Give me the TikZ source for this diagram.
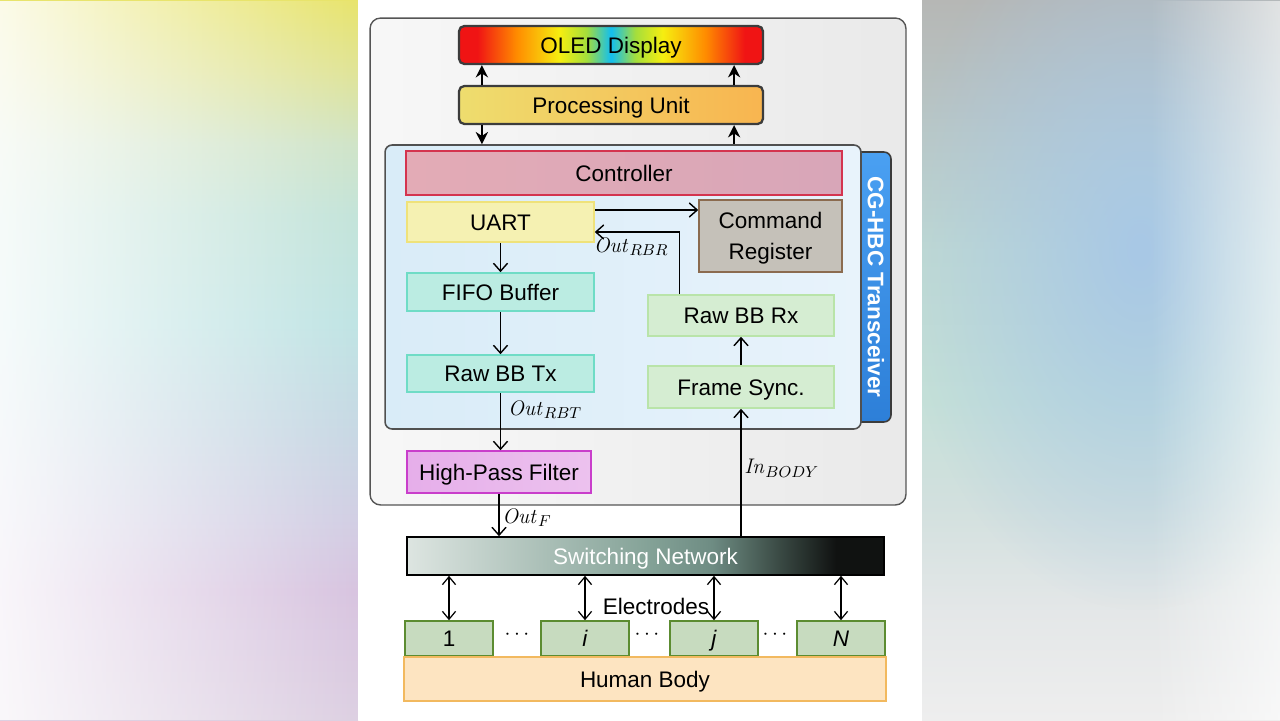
\documentclass[tikz,border=0pt]{standalone}
\usepackage[no-math]{fontspec}
\setmainfont{Liberation Sans}
\usepackage{tikz}
\usetikzlibrary{arrows.meta,positioning,calc,fadings}
\usepackage{xcolor}
\definecolor{hubgray}{HTML}{3C3C3C}
\definecolor{oledred}{HTML}{F01414}
\definecolor{oledorange}{HTML}{FF8C00}
\definecolor{oledyellow}{HTML}{F6EE10}
\definecolor{oledgreen}{HTML}{A4DE3C}
\definecolor{oledsky}{HTML}{12BEF0}
\definecolor{puA}{HTML}{EEDD6E}
\definecolor{puB}{HTML}{F8B550}
\definecolor{swlight}{HTML}{DDE5E1}
\definecolor{swmid}{HTML}{85A398}
\definecolor{swteal}{HTML}{6E8C83}
\definecolor{swdark}{HTML}{3A4A44}
\definecolor{swblack}{HTML}{101211}
\definecolor{lbA}{HTML}{E8E46C}
\definecolor{lbB}{HTML}{E0E498}
\definecolor{lbC}{HTML}{D0E4C8}
\definecolor{lbD}{HTML}{C4E4DA}
\definecolor{lbE}{HTML}{C0E4E4}
\definecolor{lbF}{HTML}{C8D8E4}
\definecolor{lbG}{HTML}{D2CFE4}
\definecolor{lbH}{HTML}{D8C4E0}
\definecolor{lbI}{HTML}{DDD0E2}
\definecolor{rbA}{HTML}{B6B7B5}
\definecolor{rbB}{HTML}{B8C4C4}
\definecolor{rbC}{HTML}{BFD9D3}
\definecolor{rbD}{HTML}{C4E0D8}
\definecolor{rbE}{HTML}{D2E0DE}
\definecolor{rbF}{HTML}{E4E7E8}
\definecolor{rbG}{HTML}{EEEEEE}
\definecolor{rightblue}{HTML}{A8C8E6}
\definecolor{pnlgray}{HTML}{555555}
\definecolor{trxgray}{HTML}{505050}
\definecolor{trxA}{HTML}{D9ECF8}
\definecolor{trxB}{HTML}{E8F3FB}
\definecolor{ctrlfillA}{HTML}{E3ABB6}
\definecolor{ctrlfillB}{HTML}{D8A6B8}
\definecolor{ctrlline}{HTML}{D4344F}
\definecolor{uartfill}{HTML}{F5F1B2}
\definecolor{uartline}{HTML}{EFE27A}
\definecolor{cmdfill}{HTML}{C5C1B9}
\definecolor{cmdline}{HTML}{8B6B4F}
\definecolor{txfill}{HTML}{BBECE2}
\definecolor{txline}{HTML}{6FDCC6}
\definecolor{rxfill}{HTML}{D5EDD2}
\definecolor{rxline}{HTML}{B9E4A9}
\definecolor{hpffillA}{HTML}{E6AEEA}
\definecolor{hpffillB}{HTML}{ECC2EE}
\definecolor{hpfline}{HTML}{C93ECB}
\definecolor{elfill}{HTML}{C7DBBF}
\definecolor{elline}{HTML}{5C8C31}
\definecolor{bodyfill}{HTML}{FDE4C1}
\definecolor{bodyline}{HTML}{F2B95F}
\definecolor{tabtop}{HTML}{4AA0F2}
\definecolor{tabbot}{HTML}{2D7FD8}

\pgfdeclarehorizontalshading{oledrainbow}{100bp}{color(0bp)=(oledred); color(25bp)=(oledred);
  color(28bp)=(oledred); color(34.5bp)=(oledorange); color(41.5bp)=(oledyellow);
  color(46bp)=(oledgreen); color(50bp)=(oledsky); color(54bp)=(oledgreen);
  color(58.5bp)=(oledyellow); color(65.5bp)=(oledorange); color(72bp)=(oledred);
  color(75bp)=(oledred); color(100bp)=(oledred)}
\pgfdeclarehorizontalshading{swnetshade}{100bp}{color(0bp)=(swlight); color(25bp)=(swlight);
  color(50bp)=(swmid); color(57bp)=(swteal); color(64bp)=(swdark); color(70bp)=(swblack);
  color(75bp)=(swblack); color(100bp)=(swblack)}
\pgfdeclareverticalshading{leftbg}{100bp}{color(0bp)=(lbI); color(25bp)=(lbI);
  color(34bp)=(lbH); color(39bp)=(lbG); color(45bp)=(lbF); color(52.5bp)=(lbE);
  color(60bp)=(lbD); color(65bp)=(lbC); color(70bp)=(lbB); color(75bp)=(lbA); color(100bp)=(lbA)}
\pgfdeclareverticalshading{rightbg}{100bp}{color(0bp)=(rbG); color(25bp)=(rbG);
  color(32.5bp)=(rbF); color(40bp)=(rbE); color(47.5bp)=(rbD); color(57.5bp)=(rbC);
  color(67.5bp)=(rbB); color(75bp)=(rbA); color(100bp)=(rbA)}
\tikzfading[name=opaqueleft, left color=transparent!0, right color=transparent!100]
\tikzfading[name=opaqueright, left color=transparent!100, right color=transparent!0]
\tikzfading[name=softblob, inner color=transparent!0, outer color=transparent!100]

\begin{document}
\begin{tikzpicture}[x=0.02cm,y=-0.02cm,
    every node/.style={font=\fontsize{12.8}{15}\selectfont},
    base/.style={draw,inner sep=0pt,align=center,line width=0.9pt},
    blk/.style={base,text height=9.2pt,text depth=0pt},
    hub/.style={blk,draw=hubgray,line width=1.3pt,rounded corners=3pt,
      minimum width=6.08cm,minimum height=0.76cm},
    txblk/.style={blk,fill=txfill,draw=txline,minimum width=3.74cm},
    rxblk/.style={blk,fill=rxfill,draw=rxline,minimum width=3.72cm},
    elblk/.style={blk,fill=elfill,draw=elline,minimum width=1.76cm,minimum height=0.7cm},
    lbl/.style={inner sep=1.5pt},
    arr/.style={-{Stealth[length=7pt,width=7pt]},line width=1.1pt},
    sig/.style={-{Straight Barb[length=4.5pt,width=8pt]},line width=0.8pt},
    dsig/.style={{Straight Barb[length=4.5pt,width=7.5pt]}-{Straight Barb[length=4.5pt,width=7.5pt]},line width=0.7pt}]
  \useasboundingbox (0,0) rectangle (1280,720);

  % blurred side panels
  \shade[shading=leftbg] (0,0) rectangle (358,720);
  \fill[white,path fading=opaqueleft,opacity=.85] (0,0) rectangle (358,720);
  \shade[shading=rightbg] (922,0) rectangle (1280,720);
  \fill[rightblue,path fading=softblob] (1140,250) ellipse [x radius=240,y radius=360];
  \fill[white,path fading=opaqueright,opacity=.6] (1150,0) rectangle (1280,720);
  \fill[white] (358,0) rectangle (922,720);

  % device board
  \node[base,draw=pnlgray,line width=0.8pt,rounded corners=6pt,left color=gray!6,right color=gray!17,
    minimum width=10.72cm,minimum height=9.74cm] (board) at (638,261.5) {};
  \node[hub,shading=oledrainbow] (oled) at (611,45) {OLED Display};
  \node[hub,left color=puA,right color=puB] (pu) at (611,105) {Processing Unit};

  % transceiver
  \node[base,draw=hubgray,rounded corners=4pt,top color=tabtop,bottom color=tabbot,
    minimum width=0.82cm,minimum height=5.4cm] (tab) at (870.5,287) {};
  \node[rotate=-90,text=white,font=\fontsize{12.8}{15}\selectfont\bfseries] (tablbl) at (876,287) {CG-HBC Transceiver};
  \node[base,draw=trxgray,rounded corners=4pt,left color=trxA,right color=trxB,
    minimum width=9.52cm,minimum height=5.68cm] (trx) at (623,287) {};
  \node[blk,draw=ctrlline,left color=ctrlfillA,right color=ctrlfillB,minimum width=8.72cm,minimum height=0.88cm] (ctrl) at (624,173) {Controller};
  \node[blk,fill=uartfill,draw=uartline,minimum width=3.74cm,minimum height=0.8cm] (uart) at (500.5,222) {UART};
  \node[base,fill=cmdfill,draw=cmdline,minimum width=2.86cm,minimum height=1.44cm,text depth=0pt,
    font=\fontsize{12.8}{18}\selectfont] (cmdreg) at (770.5,236) {Command\\Register};
  \node[txblk,minimum height=0.76cm] (fifo) at (500.5,292) {FIFO Buffer};
  \node[txblk,minimum height=0.74cm] (rbbtx) at (500.5,373.5) {Raw BB Tx};
  \node[rxblk,minimum height=0.82cm] (rbbrx) at (741,315.5) {Raw BB Rx};
  \node[rxblk,minimum height=0.84cm] (fsync) at (741,387) {Frame Sync.};
  \node[blk,draw=hpfline,left color=hpffillA,right color=hpffillB,minimum width=3.68cm,minimum height=0.84cm] (hpf) at (499,472) {High-Pass Filter};

  % front end
  \node[blk,draw=black,shading=swnetshade,text=white,minimum width=9.54cm,minimum height=0.76cm] (swnet) at (645.5,556) {Switching Network};
  \foreach \k/\x/\lbl in {1/449/1,2/585/\textit{i},3/714/\textit{j},4/841/\textit{N}}{
    \node[elblk] (el\k) at (\x,638.5) {\lbl};
    \draw[dsig] (el\k.north) -- (el\k.north |- swnet.south);
  }
  \foreach \x in {517,647,775}
    \node[anchor=base,font=\fontsize{12}{14}\selectfont] at (\x,639) {$\cdots$};
  \node[text height=9.2pt,text depth=0pt] (elabel) at (656,606) {Electrodes};
  \node[blk,fill=bodyfill,draw=bodyline,minimum width=9.64cm,minimum height=0.88cm] (body) at (645,679) {Human Body};

  % buses to the processing unit
  \coordinate (pul) at ($(pu.south west)+(24,0)$);
  \coordinate (pur) at ($(pu.south east)+(-30,0)$);
  \draw[arr] ($(pu.north west)+(24,0)$) -- ($(oled.south west)+(24,0)$);
  \draw[arr] ($(pu.north east)+(-30,0)$) -- ($(oled.south east)+(-30,0)$);
  \draw[arr] (pul) -- (pul |- trx.north);
  \draw[arr] (pur |- trx.north) -- (pur);

  % transceiver signals
  \coordinate (uarttx) at ($(uart.east)+(0,-12)$);
  \coordinate (uartrx) at ($(uart.east)+(0,10)$);
  \coordinate (rxtap) at ($(rbbrx.north west)+(32,0)$);
  \draw[sig] (uarttx) -- (uarttx -| cmdreg.west);
  \draw[sig] (rxtap) |- (uartrx) node[lbl,pos=.785,below=1.5pt] {$\mathit{Out}_{RBR}$};
  \draw[sig] (uart.south) -- (fifo.north);
  \draw[sig] (fifo.south) -- (rbbtx.north);
  \draw[sig] (fsync.north) -- (rbbrx.south);
  \draw[sig] (rbbtx.south) -- (rbbtx.south |- hpf.north) node[lbl,pos=.3,right=2.5pt] {$\mathit{Out}_{RBT}$};
  \draw[sig] (hpf.south) -- (hpf.south |- swnet.north) node[lbl,pos=.57,right] {$\mathit{Out}_{F}$};
  \draw[sig] (fsync.south |- swnet.north) -- (fsync.south) node[lbl,pos=.535,right] {$\mathit{In}_{BODY}$};
\end{tikzpicture}
\end{document}
